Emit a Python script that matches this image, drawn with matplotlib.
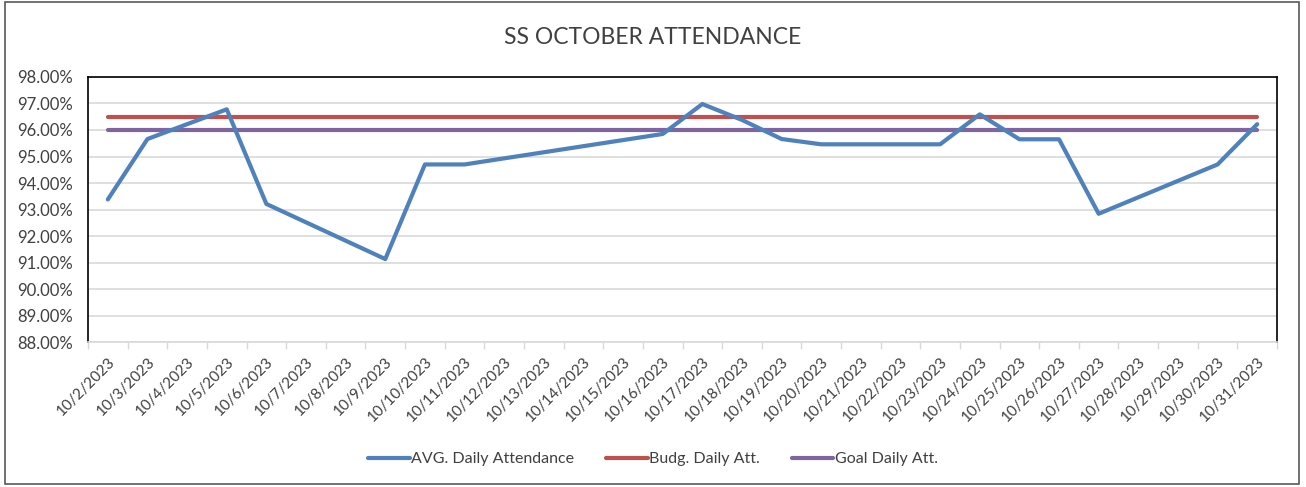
import matplotlib
matplotlib.use("Agg")
import matplotlib.pyplot as plt
from matplotlib.patches import Rectangle
from matplotlib.ticker import FuncFormatter, MultipleLocator

plt.rcParams['font.family'] = ['Lato', 'DejaVu Sans']

dates = [f"10/{d}/2023" for d in range(2, 32)]
avg_dates = ["10/2/2023", "10/3/2023", "10/5/2023", "10/6/2023", "10/9/2023",
             "10/10/2023", "10/11/2023", "10/16/2023", "10/17/2023", "10/18/2023",
             "10/19/2023", "10/20/2023", "10/23/2023", "10/24/2023", "10/25/2023",
             "10/26/2023", "10/27/2023", "10/30/2023", "10/31/2023"]
avg_values = [93.38, 95.66, 96.78, 93.21, 91.13,
              94.70, 94.70, 95.85, 96.98, 96.38,
              95.66, 95.46, 95.46, 96.59, 95.65,
              95.65, 92.84, 94.70, 96.22]
budget_value = 96.5
goal_value = 96.0

fig = plt.figure(figsize=(13.06, 4.87), dpi=100)
ax = fig.add_axes([0.0674, 0.2977, 0.9104, 0.5442])

idx = {d: i for i, d in enumerate(dates)}
ax_x = [idx[d] for d in avg_dates]
ax.plot(ax_x, avg_values, color='#4F81BD', lw=3, solid_joinstyle='round',
        solid_capstyle='round', label='AVG. Daily Attendance', zorder=4)
ax.plot(range(len(dates)), [budget_value] * len(dates), color='#C0504D', lw=3,
        solid_capstyle='round', label='Budg. Daily Att.', zorder=3)
ax.plot(range(len(dates)), [goal_value] * len(dates), color='#8064A2', lw=3,
        solid_capstyle='round', label='Goal Daily Att.', zorder=3)

ax.set_xlim(-0.5, len(dates) - 0.5)
ax.set_ylim(88, 98)
ax.yaxis.set_major_locator(MultipleLocator(1))
ax.yaxis.set_major_formatter(FuncFormatter(lambda v, p: f"{v:.2f}%"))
ax.grid(axis='y', color='#D9D9D9', lw=1.2)
ax.set_axisbelow(True)

ax.set_xticks(range(len(dates)))
ax.set_xticklabels(dates, rotation=45, ha='right', rotation_mode='anchor',
                   fontsize=11, color='#404040')
ax.set_xticks([i - 0.5 for i in range(len(dates) + 1)], minor=True)
ax.tick_params(axis='x', which='major', length=0, pad=9)
ax.tick_params(axis='x', which='minor', length=5, color='#D9D9D9', width=1)
ax.tick_params(axis='y', length=0, labelsize=12, labelcolor='#404040', pad=11)

for s in ['top', 'left', 'right']:
    ax.spines[s].set_color('black')
    ax.spines[s].set_linewidth(1.2)
ax.spines['bottom'].set_color('#D9D9D9')
ax.spines['bottom'].set_linewidth(1.2)

fig.text(0.5, 0.922, "SS OCTOBER ATTENDANCE", ha='center', va='center',
         fontsize=16.5, color='#404040')

fig.legend(loc='center', bbox_to_anchor=(0.5, 0.057), ncol=3, frameon=False,
           fontsize=11.5, handlelength=2.6, handletextpad=0.1, columnspacing=2.0,
           labelcolor='#404040')

fig.patches.append(Rectangle((0.004, 0.006), 0.991, 0.99, transform=fig.transFigure,
                             fill=False, edgecolor='#595959', lw=1.2))

fig.savefig("out.png", dpi=100)
